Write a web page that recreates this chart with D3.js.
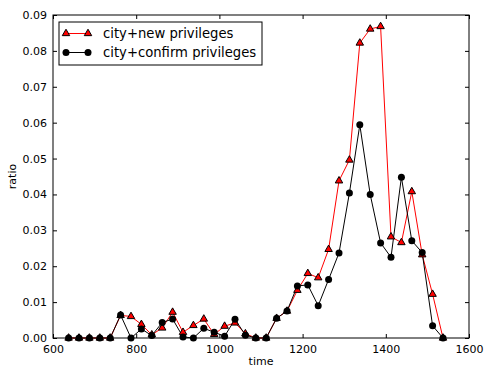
<!DOCTYPE html>
<html lang="en">
<head>
  <meta charset="UTF-8">
  <title>city privileges ratio</title>
  <script src="https://d3js.org/d3.v7.min.js"></script>
  <style>
    body { margin: 0; background: #fff; }
    text { font-family: "DejaVu Sans", sans-serif; }
  </style>
</head>
<body>
  <div id="chart"></div>

  <script>
    // bin centres (25-year bins)
    const times = d3.range(37).map(i => 637.5 + 25 * i);

    const newPrivileges = [
      0, 0, 0, 0, 0, 0.0063, 0.0060, 0.0038, 0.0009, 0.0028,
      0.0072, 0.0016, 0.0035, 0.0053, 0.0010, 0.0033, 0.0042, 0.0012, 0, 0,
      0.0055, 0.0075, 0.0133, 0.0180, 0.0168, 0.0247, 0.0438, 0.0496, 0.0822, 0.0861,
      0.0868, 0.0282, 0.0266, 0.0408, 0.0232, 0.0122, 0
    ];
    const confirmPrivileges = [
      0, 0, 0, 0, 0, 0.0064, 0, 0.0025, 0.0007, 0.0043,
      0.0053, 0.0003, 0, 0.0027, 0.0016, 0.0005, 0.0052, 0.0008, 0, 0,
      0.0055, 0.0075, 0.0145, 0.0148, 0.0090, 0.0163, 0.0237, 0.0404, 0.0594, 0.0400,
      0.0265, 0.0225, 0.0448, 0.0271, 0.0238, 0.0034, 0
    ];
    const xTicks = [600, 800, 1000, 1200, 1400, 1600];
    const yTicks = d3.range(0, 0.0901, 0.01);

    const W = 484, H = 367;
    const margin = {top: 15, right: 15, bottom: 29, left: 53};
    const width = W - margin.left - margin.right,
          height = H - margin.top - margin.bottom;

    const svg = d3.select("#chart").append("svg")
      .attr("width", W).attr("height", H);
    const g = svg.append("g")
      .attr("transform", `translate(${margin.left},${margin.top})`);

    const x = d3.scaleLinear().domain([600, 1600]).range([0, width]);
    const y = d3.scaleLinear().domain([0, 0.09]).range([height, 0]);

    // axes, ticks point inward like matplotlib classic
    const axBottom = g.append("g").attr("transform", `translate(0,${height})`)
      .call(d3.axisBottom(x).tickValues(xTicks).tickFormat(d3.format("d"))
        .tickSizeInner(-4).tickSizeOuter(0).tickPadding(7));
    const axTop = g.append("g")
      .call(d3.axisTop(x).tickValues(xTicks).tickSizeInner(-4).tickSizeOuter(0).tickFormat(""));
    const axLeft = g.append("g")
      .call(d3.axisLeft(y).tickValues(yTicks).tickFormat(d3.format(".2f"))
        .tickSizeInner(-4).tickSizeOuter(0).tickPadding(6));
    const axRight = g.append("g").attr("transform", `translate(${width},0)`)
      .call(d3.axisRight(y).tickValues(yTicks).tickSizeInner(-4).tickSizeOuter(0).tickFormat(""));
    [axBottom, axTop, axLeft, axRight].forEach(a => {
      a.select(".domain").remove();
      a.selectAll("line").attr("stroke", "#000");
      a.selectAll("text").attr("font-size", 11).attr("fill", "#000")
        .attr("font-family", "DejaVu Sans, sans-serif");
    });

    g.append("rect")
      .attr("width", width).attr("height", height)
      .attr("fill", "none").attr("stroke", "#000").attr("stroke-width", 1);

    // axis labels
    g.append("text")
      .attr("x", width / 2).attr("y", height + 27)
      .attr("text-anchor", "middle").attr("font-size", 11)
      .text("time");
    g.append("text")
      .attr("transform", `translate(${-37},${height / 2}) rotate(-90)`)
      .attr("text-anchor", "middle").attr("font-size", 11)
      .text("ratio");

    const line = d3.line().x(d => x(d[0])).y(d => y(d[1]));
    const tri = d3.symbol().type(d3.symbolTriangle).size(24);

    const seriesRed = times.map((t, i) => [t, newPrivileges[i]]);
    const seriesBlack = times.map((t, i) => [t, confirmPrivileges[i]]);

    const plot = g.append("g");

    plot.append("path").datum(seriesRed)
      .attr("d", line).attr("fill", "none").attr("stroke", "#ff0000").attr("stroke-width", 1);
    plot.append("path").datum(seriesBlack)
      .attr("d", line).attr("fill", "none").attr("stroke", "#000").attr("stroke-width", 1);

    plot.selectAll("path.tri").data(seriesRed).join("path")
      .attr("class", "tri")
      .attr("transform", d => `translate(${x(d[0])},${y(d[1])})`)
      .attr("d", tri)
      .attr("fill", "#ff0000").attr("stroke", "#000").attr("stroke-width", 1);

    plot.selectAll("circle").data(seriesBlack).join("circle")
      .attr("cx", d => x(d[0])).attr("cy", d => y(d[1]))
      .attr("r", 3.5).attr("fill", "#000");

    // legend
    const lg = g.append("g").attr("transform", "translate(6,7)");
    lg.append("rect").attr("width", 203).attr("height", 43)
      .attr("fill", "#fff").attr("stroke", "#000").attr("stroke-width", 1);
    const entries = [
      {label: "city+new privileges", color: "#ff0000", marker: "tri"},
      {label: "city+confirm privileges", color: "#000", marker: "circle"}
    ];
    entries.forEach((e, i) => {
      const yy = 11.5 + i * 19;
      const row = lg.append("g").attr("transform", `translate(0,${yy})`);
      row.append("line").attr("x1", 7).attr("x2", 29)
        .attr("stroke", e.color).attr("stroke-width", 1);
      [7, 29].forEach(px => {
        if (e.marker === "tri") {
          row.append("path").attr("transform", `translate(${px},0)`).attr("d", tri)
            .attr("fill", "#ff0000").attr("stroke", "#000");
        } else {
          row.append("circle").attr("cx", px).attr("r", 3.5).attr("fill", "#000");
        }
      });
      row.append("text").attr("x", 44).attr("dy", "0.35em")
        .attr("font-size", 13.2).text(e.label);
    });
  </script>
</body>
</html>
